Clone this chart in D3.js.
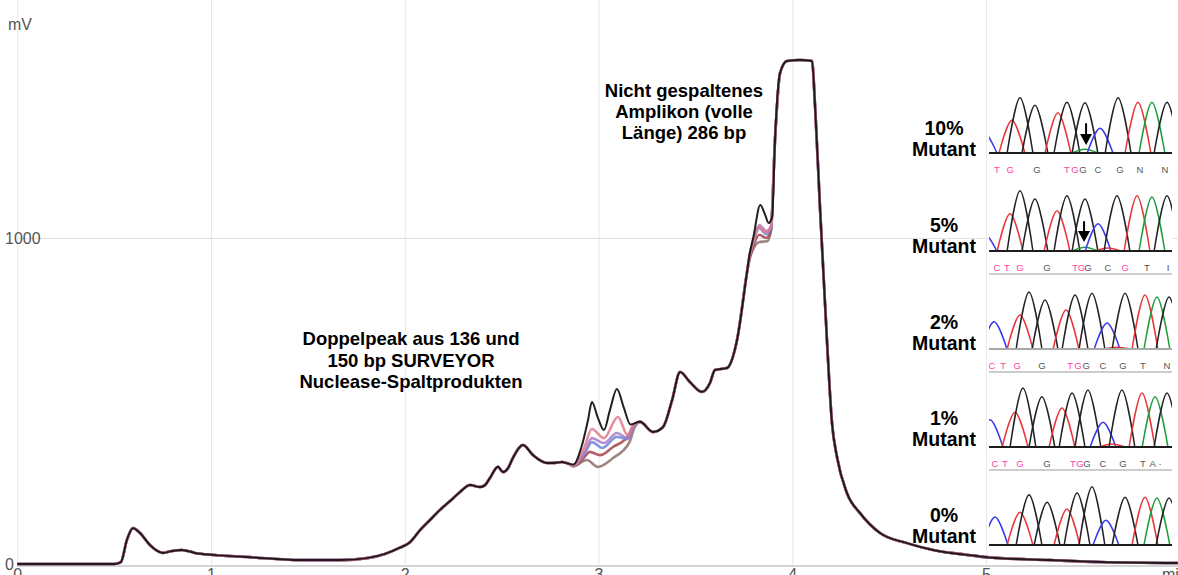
<!DOCTYPE html>
<html><head><meta charset="utf-8">
<script src="https://cdn.jsdelivr.net/npm/d3@7"></script>
<style>html,body{margin:0;padding:0;background:#fff;overflow:hidden}</style>
</head><body>
<svg id="c" width="1178" height="575"></svg>
<script>
// ---------- DATA ----------
const xTicks = [0, 1, 2, 3, 4, 5];
const yTicks = [0, 1000];
const xUnit = "min", yUnit = "mV";

// shared part of all electropherogram traces [min, mV]
const segA = [[0,0],[0.50,0],[0.535,6],[0.566,74],[0.597,110],[0.634,95],[0.685,58],[0.752,34],[0.80,40],[0.85,43],[0.917,34],[1.01,28],[1.20,21],[1.46,12],[1.665,12],[1.805,18],[1.898,31],[1.975,50],[2.027,67],[2.079,104],[2.13,135],[2.182,166],[2.234,193],[2.285,221],[2.337,242],[2.388,236],[2.414,242],[2.44,264],[2.481,298],[2.507,282],[2.533,294],[2.558,325],[2.61,365],[2.662,334],[2.734,310],[2.765,310],[2.812,313],[2.843,308]];
const segB = [[3.214,436],[3.281,405],[3.333,420],[3.38,503],[3.421,589],[3.472,558],[3.534,528],[3.575,555],[3.601,595],[3.663,601],[3.715,687],[3.766,893]];
const segC = [[3.911,1301],[3.937,1506],[3.973,1543],[4.04,1546],[4.102,1543],[4.118,1402],[4.143,1095],[4.179,687],[4.205,433],[4.231,328],[4.282,218],[4.35,156],[4.453,95],[4.592,64],[4.727,43],[4.902,28],[5.0,21],[5.33,12],[5.59,6],[5.99,3]];

// sample-specific parts: double peak (136/150 bp) and shoulder before main peak
const div1Black  = [[2.87,305],[2.915,365],[2.946,442],[2.966,497],[2.997,448],[3.028,411],[3.059,472],[3.095,537],[3.131,479],[3.165,428]];
const div1Pink   = [[2.87,303],[2.925,355],[2.966,414],[3.028,386],[3.10,451],[3.15,396],[3.178,425]];
const div1Purple = [[2.87,302],[2.93,345],[2.966,386],[3.028,371],[3.095,402],[3.15,386],[3.178,422]];
const div1Blue   = [[2.87,302],[2.93,340],[2.966,374],[3.02,356],[3.095,390],[3.15,383],[3.178,420]];
const div1Brown  = [[2.87,300],[2.93,330],[2.955,344],[3.008,334],[3.075,359],[3.15,390],[3.178,420]];
const div1Gray   = [[2.87,300],[2.94,319],[2.997,298],[3.075,325],[3.16,374],[3.185,418]];

const div2Black  = [[3.78,950],[3.80,1005],[3.835,1101],[3.86,1071],[3.878,1046],[3.896,1064]];
const div2Pink   = [[3.78,945],[3.80,992],[3.825,1034],[3.865,1018],[3.89,1035]];
const div2Purple = [[3.78,945],[3.80,988],[3.83,1040],[3.865,1022],[3.89,1036]];
const div2Blue   = [[3.78,950],[3.80,992],[3.83,1030],[3.865,1012],[3.89,1030]];
const div2Brown  = [[3.78,940],[3.80,978],[3.83,1010],[3.865,1000],[3.89,1025]];
const div2Gray   = [[3.78,935],[3.80,968],[3.83,988],[3.87,990],[3.89,1020]];

const seriesNames  = ["Kontrolle", "0%", "1%", "2%", "5%", "10%"];
const seriesColors = ["#8e7068", "#a5434f", "#6f86d8", "#a97cc6", "#e27a8c", "#141414"];
const seriesDiv1 = [div1Gray, div1Brown, div1Blue, div1Purple, div1Pink, div1Black];
const seriesDiv2 = [div2Gray, div2Brown, div2Blue, div2Purple, div2Pink, div2Black];

// annotations
const noteLeft  = ["Doppelpeak aus 136 und", "150 bp SURVEYOR", "Nuclease-Spaltprodukten"];
const noteRight = ["Nicht gespaltenes", "Amplikon (volle", "Länge) 286 bp"];

// sequencing chromatogram insets: [position (scan units 0-100), intensity, base]
const panelNames = ["10%", "5%", "2%", "1%", "0%"];
const chrom10 = [[-2.2,330,"C"],[13.0,530,"T"],[17.4,890,"G"],[25.5,770,"G"],[38.0,650,"T"],[42.9,820,"G"],[52.7,810,"G"],[52.7,60,"A"],[60.9,400,"C"],[70.7,890,"G"],[81.5,820,"T"],[89.1,820,"A"],[97.3,820,"G"]];
const chrom5  = [[-2.2,280,"C"],[12.0,600,"T"],[17.4,970,"G"],[25.5,840,"G"],[37.5,650,"T"],[42.9,890,"G"],[52.7,840,"G"],[52.7,60,"A"],[59.8,440,"C"],[65.2,50,"T"],[70.1,890,"G"],[81.0,890,"T"],[89.1,870,"A"],[97.3,890,"G"]];
const chrom2  = [[3.3,440,"C"],[17.4,550,"T"],[22.3,920,"G"],[31.0,790,"G"],[42.4,630,"T"],[47.3,870,"G"],[56.5,900,"G"],[64.7,420,"C"],[70.0,30,"T"],[74.5,900,"G"],[85.3,870,"T"],[91.8,840,"A"],[98.4,840,"G"]];
const chrom1  = [[1.1,440,"C"],[14.7,560,"T"],[19.0,950,"G"],[29.3,810,"G"],[40.2,630,"T"],[45.7,870,"G"],[54.3,920,"G"],[62.5,400,"C"],[67.4,50,"T"],[72.8,920,"G"],[83.7,870,"T"],[90.8,810,"A"],[97.3,870,"G"]];
const chrom0  = [[3.8,450,"C"],[17.4,530,"T"],[22.3,810,"G"],[32.1,690,"G"],[42.9,580,"T"],[48.4,840,"G"],[56.5,940,"G"],[64.1,400,"C"],[74.5,770,"G"],[85.3,770,"T"],[91.8,760,"A"],[98.4,760,"G"]];
const chromPeaks = [chrom10, chrom5, chrom2, chrom1, chrom0];

// base calls: [position, letter, lowQuality(1 = pink)]
const calls10 = [[4.9,"T",1],[12.0,"G",1],[26.6,"G",0],[42.9,"T",1],[47.3,"G",1],[51.6,"G",0],[59.8,"C",0],[71.7,"G",0],[82.6,"N",0],[96.2,"N",0]];
const calls5  = [[4.9,"C",1],[10.3,"T",1],[17.4,"G",1],[32.1,"G",0],[47.3,"T",1],[50.8,"G",1],[54.3,"G",0],[65.2,"C",0],[74.5,"G",1],[86.4,"T",0],[97.8,"I",0]];
const calls2  = [[2.2,"C",1],[8.2,"T",1],[15.8,"G",1],[29.3,"G",0],[44.6,"T",1],[48.9,"G",1],[53.3,"G",0],[62.5,"C",0],[73.4,"G",0],[84.2,"T",0],[97.3,"N",0]];
const calls1  = [[3.8,"C",1],[9.2,"T",1],[17.4,"G",1],[32.1,"G",0],[46.2,"T",1],[50.0,"G",1],[53.8,"G",0],[62.5,"C",0],[73.4,"G",0],[84.2,"T",0],[89.5,"A",0],[93.5,"\u00b7",0]];
const chromCalls = [calls10, calls5, calls2, calls1, []];
const baseColors = {A:"#1e9e3c", C:"#3a3af0", G:"#222222", T:"#e8363a"};

// mutation arrows: [panel, position, top intensity, tip intensity]
const arrows = [["10%",53.3,480,130],["5%",52.2,480,145]];

// ---------- DRAWING ----------
const svg = d3.select("#c");
const FONT = "'Liberation Sans', Arial, Helvetica, sans-serif";
const x = d3.scaleLinear().domain([0, 6]).range([17.25, 1179.75]);
const y = d3.scaleLinear().domain([0, 1700]).range([564, 9.8]);

svg.append("rect").attr("width",1178).attr("height",575).attr("fill","#fff");

// vertical grid + x labels
const gx = svg.append("g").attr("transform","translate(0,566)")
  .call(d3.axisBottom(x).tickValues(xTicks).tickSize(-566).tickPadding(3).tickFormat(d3.format("d")));
gx.select(".domain").remove();
gx.selectAll(".tick line").attr("stroke","#e8e8e8").attr("stroke-width",1);
gx.selectAll(".tick text").attr("font-family",FONT).attr("font-size",16).attr("fill","#555");

// horizontal grid
const gy = svg.append("g").attr("transform",`translate(${x(0)},0)`)
  .call(d3.axisRight(y).tickValues([1000]).tickSize(1178).tickFormat(""));
gy.select(".domain").remove();
gy.selectAll(".tick line").attr("stroke","#e2e2e2");

// axis baseline
svg.append("line").attr("x1",x(0)).attr("x2",1178).attr("y1",566).attr("y2",566)
  .attr("stroke","#d4d4d4").attr("stroke-width",2);

// y labels
const gyl = svg.append("g").attr("transform","translate(2,0)")
  .call(d3.axisRight(y).tickValues(yTicks).tickSize(0).tickPadding(3).tickFormat(d3.format("d")));
gyl.select(".domain").remove();
gyl.selectAll(".tick text").attr("font-family",FONT).attr("font-size",16).attr("fill","#555");

svg.append("text").attr("x",8).attr("y",30).text(yUnit)
  .attr("font-family",FONT).attr("font-size",16).attr("fill","#555");
svg.append("text").attr("x",1162).attr("y",580).text(xUnit)
  .attr("font-family",FONT).attr("font-size",16).attr("fill","#555");

// traces
const line = d3.line().x(d=>x(d[0])).y(d=>y(d[1])).curve(d3.curveMonotoneX);
seriesNames.forEach((nm,i)=>{
  const pts = segA.concat(seriesDiv1[i], segB, seriesDiv2[i], segC);
  svg.append("path").datum(pts).attr("d",line)
    .attr("fill","none").attr("stroke",seriesColors[i])
    .attr("stroke-width", i===5 ? 2 : 2.6).attr("stroke-linejoin","round")
    .attr("opacity", i===5 ? 0.95 : 0.85);
});

// annotations
const ann = svg.append("g").attr("font-family",FONT).attr("font-weight","bold")
  .attr("font-size",18.5).attr("fill","#000").attr("text-anchor","middle");
noteLeft.forEach((t,i)=>ann.append("text").attr("x",411).attr("y",345+i*21.5).text(t));
noteRight.forEach((t,i)=>ann.append("text").attr("x",684).attr("y",97+i*21).text(t));

// ---------- inset chromatograms ----------
const cx = d3.scaleLinear().domain([0,100]).range([988,1172]);
const panelY = d3.scalePoint().domain(panelNames).range([153,545]);
const labelY = d3.scalePoint().domain(panelNames).range([135,522]);
const ci = d3.scaleLinear().domain([0,1000]).range([0,-62]);

svg.append("rect").attr("x",989).attr("y",88).attr("width",183).attr("height",462).attr("fill","#fff");
svg.append("defs").append("clipPath").attr("id","clipIn")
  .append("rect").attr("x",989).attr("y",60).attr("width",183).attr("height",495);
const inset = svg.append("g").attr("clip-path","url(#clipIn)");
const W = 7;
const peakLine = d3.line().x(d=>cx(d[0])).y(d=>ci(d[1])).curve(d3.curveCardinal.tension(0));

panelNames.forEach((pn,pi)=>{
  const g = inset.append("g").attr("transform",`translate(0,${panelY(pn)})`);
  chromPeaks[pi].forEach(p=>{
    g.append("path").datum([[p[0]-W,0],[p[0],p[1]],[p[0]+W,0]]).attr("d",peakLine)
      .attr("fill","none").attr("stroke",baseColors[p[2]]).attr("stroke-width",1.5);
  });
  g.append("line").attr("x1",cx(0)).attr("x2",cx(100)).attr("y1",0).attr("y2",0)
    .attr("stroke", pi===2 ? "#a8a8a8" : "#1c1c1c").attr("stroke-width",2);
  const calls = chromCalls[pi];
  if (calls.length){
    calls.forEach(c=>{
      g.append("text").attr("x",cx(c[0])).attr("y",20).text(c[1])
        .attr("text-anchor","middle").attr("font-family",FONT).attr("font-size",9.5)
        .attr("fill", c[2] ? "#ff3ea6" : "#555");
    });
    if (pi>0) g.append("line").attr("x1",cx(0)).attr("x2",cx(100)).attr("y1",23).attr("y2",23)
      .attr("stroke","#bdbdbd").attr("stroke-width",1.5);
  }
});

// arrows
arrows.forEach(a=>{
  const g = inset.append("g").attr("transform",`translate(0,${panelY(a[0])})`);
  const ax = cx(a[1]), yt = ci(a[2]), yb = ci(a[3]);
  g.append("line").attr("x1",ax).attr("x2",ax).attr("y1",yt).attr("y2",yb-8)
    .attr("stroke","#000").attr("stroke-width",2);
  g.append("path").attr("d",`M${ax-6},${yb-11}L${ax+6},${yb-11}L${ax},${yb}Z`).attr("fill","#000");
});

// mutant labels
const ml = svg.append("g").attr("font-family",FONT).attr("font-weight","bold")
  .attr("font-size",19.5).attr("fill","#000").attr("text-anchor","middle");
panelNames.forEach(pn=>{
  ml.append("text").attr("x",944).attr("y",labelY(pn)).text(pn);
  ml.append("text").attr("x",944).attr("y",labelY(pn)+21).text("Mutant");
});
</script>
</body></html>
